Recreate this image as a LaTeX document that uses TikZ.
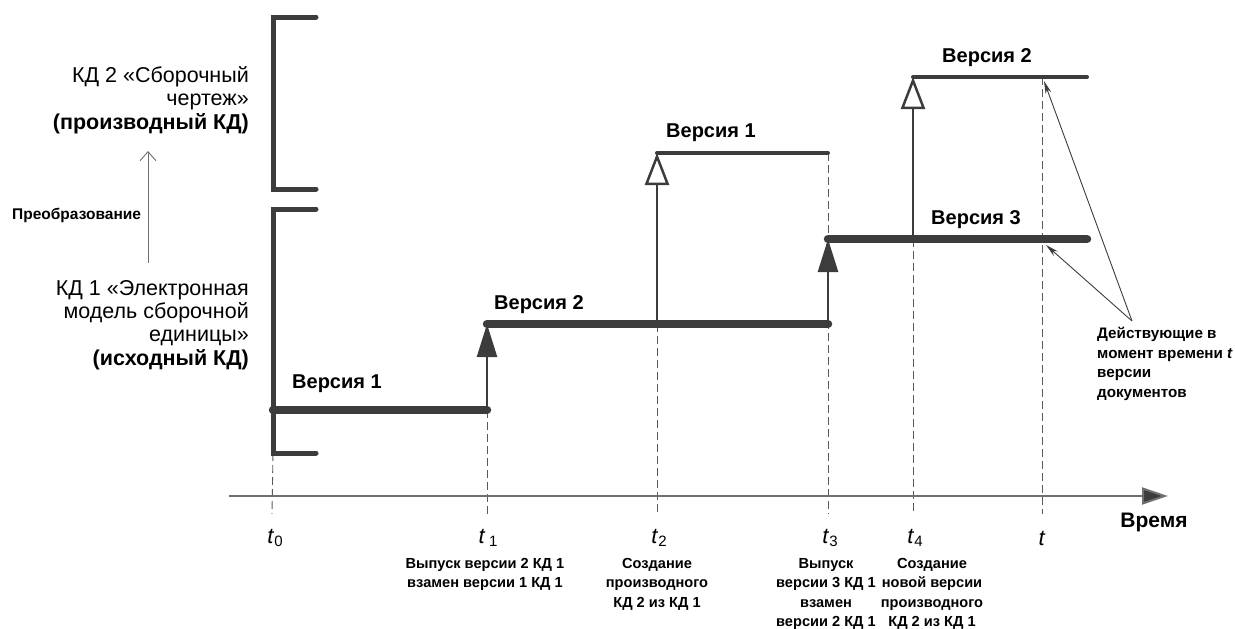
\documentclass[tikz,border=0pt]{standalone}
\usepackage{fontspec}
\setmainfont{Liberation Sans}
\usetikzlibrary{arrows.meta}
\definecolor{dk}{HTML}{3C3C3C}
\definecolor{ax}{HTML}{707070}
\definecolor{dsh}{HTML}{5A5A5A}
\begin{document}
\begin{tikzpicture}[x=1pt,y=-1pt,
  kdone/.style={draw=dk,line width=8.5pt,line cap=round},
  kdtwo/.style={draw=dk,line width=4pt,line cap=round},
  brk/.style={draw=dk,line width=5pt,line cap=round,line join=miter},
  evfill/.style={draw=dk,line width=2.5pt,-{Triangle[length=33pt,width=20pt,fill=dk]}},
  evopen/.style={draw=dk,line width=2.5pt,-{Triangle[length=32pt,width=24pt,fill=white]}},
  tdash/.style={draw=dsh,line width=0.9pt,dash pattern=on 8pt off 4pt},
  axis/.style={draw=ax,line width=2pt,-{Triangle[length=26pt,width=17pt,fill=dk]}},
  note/.style={draw=dk,line width=0.9pt,-{Stealth[length=13pt,width=6pt]}},
  conv/.style={draw=ax,line width=0.9pt,-{Straight Barb[length=9pt,width=16pt]}},
  bigtxt/.style={inner sep=0pt,align=right,font={\fontsize{21.5}{23.3}\selectfont}},
  vlab/.style={inner sep=0pt,font={\fontsize{20}{22}\selectfont\bfseries}},
  tlab/.style={inner sep=0pt,font={\fontsize{22}{24}\selectfont}},
  small/.style={inner sep=0pt,font={\fontsize{14.6}{19.5}\selectfont\bfseries}},
  evtxt/.style={small,align=center,anchor=north}]
\useasboundingbox (0,0) rectangle (1235,629);
% key points
\coordinate (b2a) at (316,17); \coordinate (b2b) at (273,17);
\coordinate (b2c) at (273,189); \coordinate (b2d) at (316,189);
\coordinate (b1a) at (316,209); \coordinate (b1b) at (273,209);
\coordinate (b1c) at (273,453); \coordinate (b1d) at (316,453);
\coordinate (v1s) at (273,410); \coordinate (v1e) at (487,410);
\coordinate (v2s) at (487,324); \coordinate (v2e) at (828,324);
\coordinate (c2s) at (657,324);
\coordinate (w1s) at (657,153); \coordinate (w1e) at (828,153);
\coordinate (v3s) at (828,239); \coordinate (v3e) at (1087,239);
\coordinate (c4s) at (913,239);
\coordinate (w2s) at (913,77); \coordinate (w2e) at (1087,77);
\coordinate (tt) at (1042,77);
\coordinate (d0) at (272,514); \coordinate (d1) at (487,514);
\coordinate (d2) at (657,514); \coordinate (d3) at (828,514);
\coordinate (d4) at (913,514); \coordinate (dt) at (1042,514);
\coordinate (axs) at (229,496); \coordinate (axe) at (1168,496);
% dashed time marks
\draw[tdash] (b1c) -- (d0);
\draw[tdash] (v1e) -- (d1);
\draw[tdash] (c2s) -- (d2);
\draw[tdash] (w1e) -- (d3);
\draw[tdash] (c4s) -- (d4);
\draw[tdash] (tt) -- (dt);
% time axis
\draw[axis] (axs) -- (axe);
% brackets
\draw[brk] (b2a) -- (b2b) -- (b2c) -- (b2d);
\draw[brk] (b1a) -- (b1b) -- (b1c) -- (b1d);
% event arrows
\draw[evfill] (v1e) -- (v2s);
\draw[evfill] (v2e) -- (v3s);
\draw[evopen] (c2s) -- (w1s);
\draw[evopen] (c4s) -- (w2s);
% version lines
\draw[kdone] (v1s) -- (v1e);
\draw[kdone] (v2s) -- (v2e);
\draw[kdone] (v3s) -- (v3e);
\draw[kdtwo] (w1s) -- (w1e);
\draw[kdtwo] (w2s) -- (w2e);
% version labels
\node[vlab,anchor=west] (lv1) at (292,384) {Версия 1};
\node[vlab,anchor=west] (lv2) at (494,305) {Версия 2};
\node[vlab,anchor=west] (lw1) at (666,133) {Версия 1};
\node[vlab] (lw2) at (987,58) {Версия 2};
\node[vlab] (lv3) at (976,220) {Версия 3};
% left texts
\node[bigtxt,anchor=east] (kd2) at (249,100) {КД 2 «Сборочный\\ чертеж»\\ \textbf{(производный КД)}};
\node[bigtxt,anchor=east] (kd1) at (249,325) {КД 1 «Электронная\\ модель сборочной\\ единицы»\hspace*{8pt}\\ \textbf{(исходный КД)}};
\node[small,anchor=west,font={\fontsize{15.5}{19}\selectfont\bfseries}] (conv) at (12,215) {Преобразование};
\coordinate (cvs) at (148,263); \coordinate (cve) at (148,151);
\draw[conv] (cvs) -- (cve);
% time labels
\node[tlab] (t0) at (275,538) {\textit{t}\raisebox{-0.3ex}{\fontsize{15}{15}\selectfont 0}};
\node[tlab] (t1) at (488,538) {\textit{t}\,\raisebox{-0.3ex}{\fontsize{15}{15}\selectfont 1}};
\node[tlab] (t2) at (659,538) {\textit{t}\raisebox{-0.3ex}{\fontsize{15}{15}\selectfont 2}};
\node[tlab] (t3) at (830,538) {\textit{t}\raisebox{-0.3ex}{\fontsize{15}{15}\selectfont 3}};
\node[tlab] (t4) at (915,538) {\textit{t}\raisebox{-0.3ex}{\fontsize{15}{15}\selectfont 4}};
\node[tlab] (tn) at (1042,538) {\textit{t}};
\node[inner sep=0pt,font={\fontsize{21}{22}\selectfont\bfseries}] (time) at (1154,522) {Время};
% event texts
\node[evtxt] (e1) at (485,558) {Выпуск версии 2 КД 1\\взамен версии 1 КД 1};
\node[evtxt] (e2) at (657,558) {Создание\\производного\\КД 2 из КД 1};
\node[evtxt] (e3) at (826,558) {Выпуск\\версии 3 КД 1\\взамен\\версии 2 КД 1};
\node[evtxt] (e4) at (932,558) {Создание\\новой версии\\производного\\КД 2 из КД 1};
% note
\node[small,align=left,anchor=north west,font={\fontsize{15.2}{19.5}\selectfont\bfseries}] (nt) at (1097,327) {Действующие в\\момент времени \textit{t}\\версии\\документов};
\coordinate (ns) at (1132,321);
\coordinate (na) at (1044,81);
\coordinate (nb) at (1046,245);
\draw[note] (ns) -- (na);
\draw[note] (ns) -- (nb);
\end{tikzpicture}
\end{document}
